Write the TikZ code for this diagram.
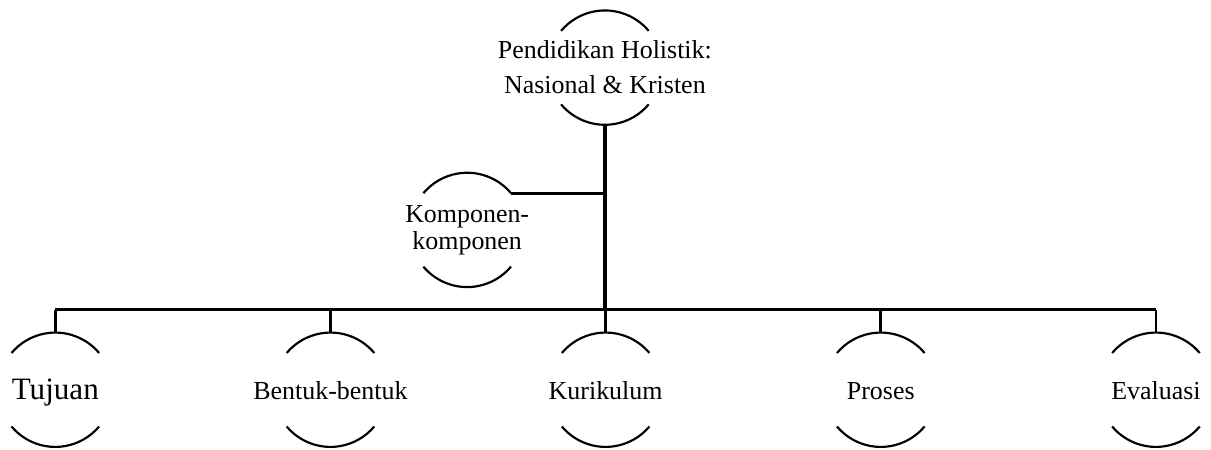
\documentclass[tikz,border=0pt]{standalone}
\usepackage{fontspec}
\setmainfont{Liberation Serif}

\newcommand{\ringrad}{0.93cm}

\tikzset{
  rim/.style={line width=1pt},
  link/.style={line width=1.3pt},
  trunk/.style={line width=1.5pt},
  ringtext/.style={font=\fontsize{12}{12.4}\selectfont, align=center, inner sep=0pt}
}

\begin{document}
\begin{tikzpicture}
    \useasboundingbox (0,0) rectangle (19.7,7.32);

    % --- Root and side node ---
    \node[ringtext, font=\fontsize{12}{16.2}\selectfont] (top) at (9.84,6.22)
        {Pendidikan Holistik:\\Nasional \& Kristen};
    \node[ringtext] (komp) at (7.60,3.58) {Komponen-\\komponen};

    % --- The five components along the bottom ---
    \foreach \name/\txt [count=\i from 0] in
        {tujuan/{\fontsize{14.4}{16}\selectfont Tujuan}, bentuk/Bentuk-bentuk,
         kurikulum/Kurikulum, proses/Proses, evaluasi/Evaluasi}
        \node[ringtext, anchor=base] (\name) at (0.90+4.476*\i,0.82) {\txt};

    % --- Open rings: only the upper and lower arcs ---
    \foreach \n in {top,komp}{
        \draw[rim] ([shift={(40:\ringrad)}]\n.center) arc (40:140:\ringrad);
        \draw[rim] ([shift={(220:\ringrad)}]\n.center) arc (220:320:\ringrad);
    }
    \foreach \n in {tujuan,bentuk,kurikulum,proses,evaluasi}{
        \coordinate (c\n) at (\n.base |- 0,0.98);
        \draw[rim] ([shift={(40:\ringrad)}]c\n) arc (40:140:\ringrad);
        \draw[rim] ([shift={(220:\ringrad)}]c\n) arc (220:320:\ringrad);
    }

    % --- Connectors ---
    \coordinate (bus) at (9.84,2.28);
    \coordinate (kend) at ([shift={(40:\ringrad)}]komp.center);

    \draw[trunk] ([yshift=-\ringrad]top.center) -- (bus);
    \draw[link] (kend) -- (kend -| top.center);
    \draw[link] (ctujuan |- bus) -- (cevaluasi |- bus);
    \foreach \n in {tujuan,bentuk,kurikulum,proses,evaluasi}
        \draw[link] (c\n |- bus) -- ([yshift=\ringrad]c\n);

\end{tikzpicture}
\end{document}
